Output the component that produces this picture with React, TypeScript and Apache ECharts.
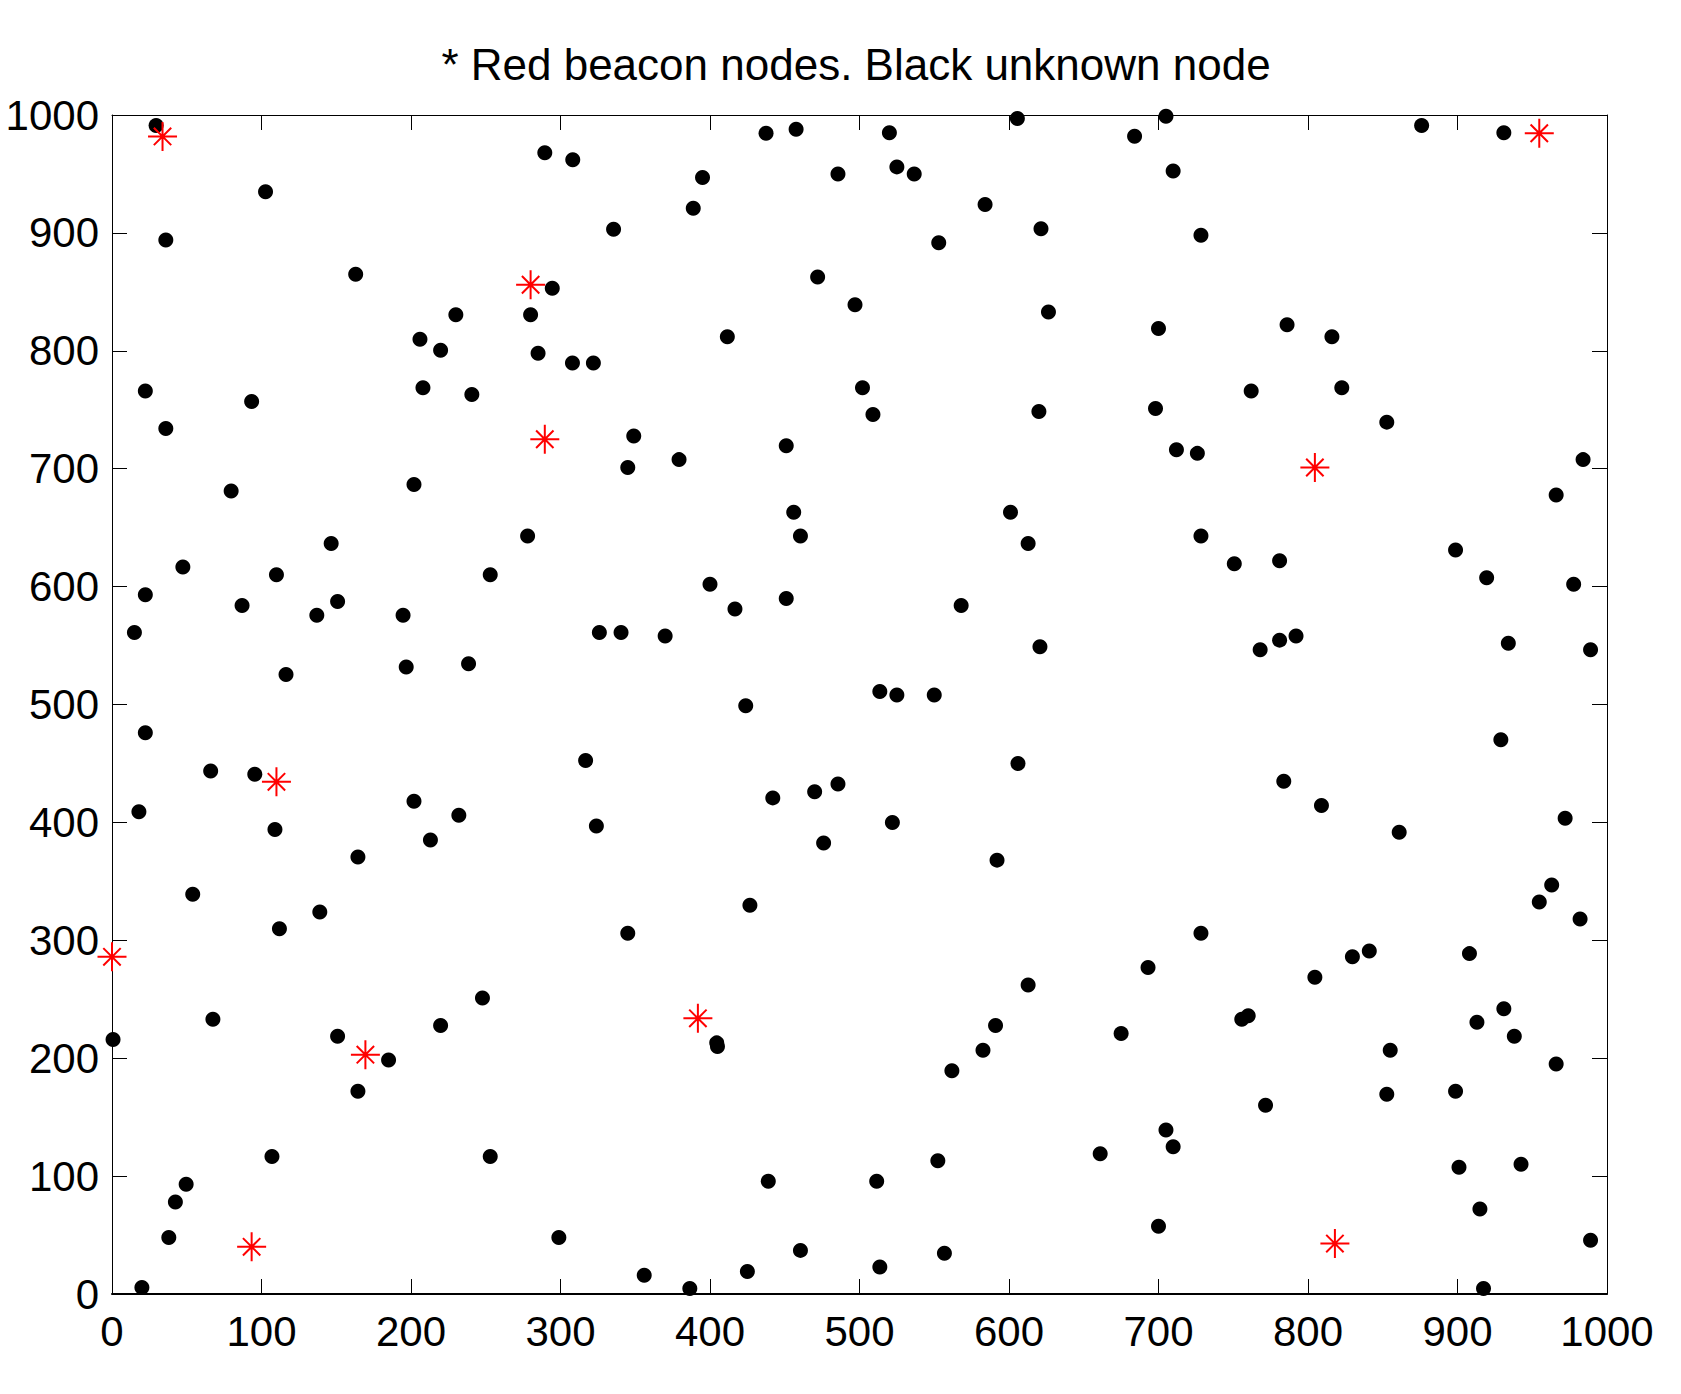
import React, { useEffect, useRef } from "react";
import * as echarts from "echarts";

const titleText = "* Red beacon nodes. Black unknown node";
const xTicks = [0, 100, 200, 300, 400, 500, 600, 700, 800, 900, 1000];
const yTicks = [0, 100, 200, 300, 400, 500, 600, 700, 800, 900, 1000];

const unknownNodes: [number, number][] = [
  [29.5, 991], [705, 999], [605.6, 997], [876, 991], [931, 985], [437.5, 984.5],
  [457.6, 988], [520, 985], [684, 982], [308.2, 962], [289.5, 968], [102.7, 935],
  [395, 947], [388.8, 921], [485.6, 950], [525, 956], [536.6, 950], [709.8, 952.6],
  [584, 924], [36, 894], [335.5, 903], [553, 891.6], [621.4, 903.5], [728.4, 898],
  [163, 865], [294.5, 853], [472, 862.5], [230, 830.6], [280, 830.6], [626.4, 833],
  [786, 822], [497, 839], [411.6, 812], [816, 812], [700, 819], [206, 809.7],
  [219.8, 800.5], [285, 798], [308, 789.6], [322, 789.6], [22.3, 766], [208, 768.7],
  [502, 768.7], [240.7, 763], [93.4, 757], [762, 766], [822.6, 768.7], [509, 746],
  [620, 748.6], [698, 751], [852.7, 739.5], [36, 734], [349, 727.7], [712, 716],
  [726, 713], [451, 719.5], [345, 701], [379.3, 707.7], [984, 707.7], [79.7, 681],
  [202, 686.7], [966, 677.6], [456, 663], [601, 663], [460.5, 643], [728.4, 643],
  [278, 643], [146.6, 636.6], [612.8, 636.6], [47.4, 616.6], [750.7, 619.3], [781, 622],
  [110, 610], [253, 610], [898.7, 631], [919.5, 607.5], [977.7, 602], [400, 602],
  [22.3, 593], [87, 584], [137, 575.6], [150.9, 587.4], [194.7, 575.6], [451, 590],
  [416.7, 581], [568, 584], [326, 561], [340.5, 561], [370, 558], [781, 554.6],
  [792, 558], [768, 546.4], [934, 552], [989, 546.4], [620.7, 549], [15, 561],
  [116.4, 525.5], [238.5, 534.6], [196.8, 531.9], [513.6, 511], [525, 508], [550, 508],
  [423.9, 499], [22.3, 476], [929, 470], [316.8, 452.6], [606, 450], [66, 443.5],
  [95.5, 440.8], [783.8, 435], [485.6, 432.6], [470, 426], [442, 420.8], [809, 414.4],
  [202, 418], [18, 409], [232, 406], [324, 397], [522, 400], [972, 403.5],
  [109, 394], [213, 385], [476, 382.5], [861, 391.6], [164.5, 370.7], [592, 368],
  [54, 339], [963, 347], [954.7, 332.4], [426.7, 329.7], [139, 324], [982, 318],
  [112, 309.7], [345, 306], [728.4, 306], [908, 288.7], [841, 291], [829.7, 286],
  [804.6, 268.7], [612.8, 262], [693, 276.9], [247.8, 251], [931, 242], [760, 236],
  [755.7, 233], [67.5, 233], [913, 230.4], [591, 227.7], [219.8, 227.7], [938, 218.6],
  [675, 221], [150.9, 218.6], [404.5, 213], [405, 210], [0.7, 215.8], [582.6, 206.7],
  [855, 206.7], [185, 198.5], [966, 195], [561.8, 189.4], [164.5, 172], [898.7, 172],
  [852.7, 169.4], [771.6, 160], [705, 139], [709.8, 124.8], [661, 119], [107, 116.6],
  [253, 116.6], [552.4, 113], [942.5, 110], [901, 107.5], [49.6, 93], [439, 95.6],
  [511.5, 95.6], [42.4, 78], [915, 72], [700, 57.4], [38, 48], [298.9, 48],
  [460.5, 37], [556.8, 34.6], [989, 45.5], [513.6, 22.8], [425, 19], [356, 16],
  [20, 5.5], [386.5, 4.6], [917.4, 4.6],
];

const beaconNodes: [number, number][] = [
  [33.8, 981.8], [280, 856], [289.5, 725], [804.6, 701], [954.7, 984.5],
  [110, 434.4], [0, 286], [169.5, 203], [391.9, 233.8], [93.4, 40], [818, 42.8],
];

const FONT = "'Liberation Sans', Arial, Helvetica, sans-serif";
const starPath =
  "path://M0,-1L0,1M-1,0L1,0M-0.6,-0.6L0.6,0.6M-0.6,0.6L0.6,-0.6";

export default function App() {
  const ref = useRef<HTMLDivElement>(null);
  useEffect(() => {
    document.body.style.margin = "0";
    if (!ref.current) return;
    const chart = echarts.init(ref.current, null, { renderer: "svg" });
    const tick = () => ({ show: true, inside: false, length: -15, lineStyle: { color: "#000", width: 1 } });
    const fmt = (v: number) => String(v);
    chart.setOption({
      animation: false,
      backgroundColor: "#fff",
      title: {
        text: titleText,
        left: 851,
        textAlign: "center",
        top: 37,
        textStyle: { fontFamily: FONT, fontSize: 44, fontWeight: "normal", color: "#000" },
      },
      grid: {
        left: 112,
        top: 115,
        width: 1495,
        height: 1179,
        show: false,
        containLabel: false,
        outerBoundsMode: "none",
      },
      xAxis: [
        {
          type: "value",
          min: 0,
          max: 1000,
          interval: 100,
          position: "bottom",
          splitLine: { show: false },
          axisTick: tick(),
          axisLine: { show: true, onZero: false, lineStyle: { color: "#000", width: 2 } },
          axisLabel: {
            show: true,
            margin: 16,
            fontFamily: FONT,
            fontSize: 42,
            color: "#000",
            formatter: fmt,
          },
        },
        {
          type: "value",
          min: 0,
          max: 1000,
          interval: 100,
          position: "top",
          splitLine: { show: false },
          axisTick: tick(),
          axisLine: { show: true, onZero: false, lineStyle: { color: "#000", width: 1 } },
          axisLabel: { show: false },
        },
      ],
      yAxis: [
        {
          type: "value",
          min: 0,
          max: 1000,
          interval: 100,
          position: "left",
          splitLine: { show: false },
          axisTick: tick(),
          axisLine: { show: true, onZero: false, lineStyle: { color: "#000", width: 1 } },
          axisLabel: {
            show: true,
            margin: 13,
            fontFamily: FONT,
            fontSize: 42,
            color: "#000",
            formatter: fmt,
          },
        },
        {
          type: "value",
          min: 0,
          max: 1000,
          interval: 100,
          position: "right",
          splitLine: { show: false },
          axisTick: tick(),
          axisLine: { show: true, onZero: false, lineStyle: { color: "#000", width: 1 } },
          axisLabel: { show: false },
        },
      ],
      series: [
        {
          type: "scatter",
          data: unknownNodes,
          symbol: "circle",
          symbolSize: 15,
          itemStyle: { color: "#000", opacity: 1 },
          clip: false,
        },
        {
          type: "scatter",
          data: beaconNodes,
          symbol: starPath,
          symbolSize: 29,
          itemStyle: { color: "none", borderColor: "#ff0000", borderWidth: 2, opacity: 1 },
          clip: false,
        },
      ],
    });
    return () => chart.dispose();
  }, []);
  return <div ref={ref} style={{ width: 1681, height: 1394 }} />;
}
